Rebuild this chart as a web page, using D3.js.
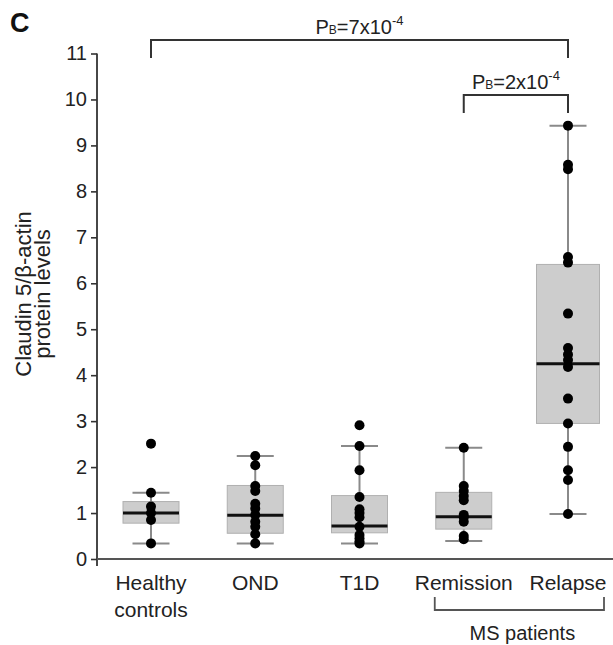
<!DOCTYPE html>
<html>
<head>
<meta charset="utf-8">
<script src="https://cdn.jsdelivr.net/npm/d3@7"></script>
<style>
  html, body { margin: 0; padding: 0; background: #fff; }
  svg { display: block; font-family: "Liberation Sans", Arial, sans-serif; }
</style>
</head>
<body>
<svg id="chart" width="613" height="645"></svg>
<script>
// ---- data ----
const categories = ["Healthy controls", "OND", "T1D", "Remission", "Relapse"];
const labelLines = [["Healthy", "controls"], ["OND"], ["T1D"], ["Remission"], ["Relapse"]];
const mins    = [0.34, 0.34, 0.34, 0.39, 0.98];
const q1s     = [0.78, 0.56, 0.57, 0.65, 2.95];
const medians = [1.00, 0.95, 0.72, 0.92, 4.25];
const q3s     = [1.25, 1.60, 1.38, 1.45, 6.41];
const maxs    = [1.44, 2.24, 2.46, 2.42, 9.43];
const pointsHealthy   = [2.51, 1.44, 1.14, 1.00, 0.85, 0.34];
const pointsOND       = [2.24, 2.04, 1.59, 1.48, 1.20, 1.10, 0.96, 0.81, 0.70, 0.54, 0.34];
const pointsT1D       = [2.91, 2.46, 1.93, 1.35, 1.08, 1.00, 0.91, 0.70, 0.52, 0.45, 0.38, 0.34];
const pointsRemission = [2.42, 1.59, 1.48, 1.37, 1.28, 0.96, 0.91, 0.81, 0.50, 0.43];
const pointsRelapse   = [9.43, 8.58, 8.48, 6.57, 6.45, 5.34, 4.59, 4.45, 4.33, 4.18, 3.49, 2.95, 2.44, 1.93, 1.72, 0.98];
const yTicks = [0, 1, 2, 3, 4, 5, 6, 7, 8, 9, 10, 11];
const yLabel = ["Claudin 5/β-actin", "protein levels"];
const comparisons = [
  { from: "Healthy controls", to: "Relapse", mant: "7", exp: "-4" },
  { from: "Remission", to: "Relapse", mant: "2", exp: "-4" }
];
const groupLabel = { text: "MS patients", from: "Remission", to: "Relapse" };

const points = [pointsHealthy, pointsOND, pointsT1D, pointsRemission, pointsRelapse];

// ---- layout ----
const svg = d3.select("#chart");
const axisX = 97, axisY = 559;
const y = d3.scaleLinear().domain([0, 11]).range([559, 53.5]);
const x = d3.scalePoint().domain(categories).range([151, 568]);
const boxW = c => c === "Relapse" ? 63 : 56;
const capW = 37;

// panel letter
svg.append("text").attr("x", 10).attr("y", 32)
  .attr("font-size", 27).attr("font-weight", "bold").attr("fill", "#111").text("C");

// y axis
const yAxis = d3.axisLeft(y).tickValues(yTicks).tickSize(6).tickPadding(4).tickFormat(d3.format("d"));
const gy = svg.append("g").attr("transform", `translate(${axisX},0)`).call(yAxis);
gy.select(".domain").remove();
gy.selectAll(".tick line").attr("stroke", "#333").attr("stroke-width", 1.6);
gy.selectAll(".tick text").attr("font-size", 20).attr("fill", "#222")
  .attr("font-family", "'Liberation Sans', Arial, sans-serif");
gy.append("line").attr("x1", 0).attr("x2", 0).attr("y1", y(11)).attr("y2", axisY + 7)
  .attr("stroke", "#333").attr("stroke-width", 1.8);

// x axis line
svg.append("line").attr("x1", axisX).attr("x2", 613).attr("y1", axisY).attr("y2", axisY)
  .attr("stroke", "#555").attr("stroke-width", 2.2);

// y label
const yl = svg.append("text").attr("transform", `translate(31,294) rotate(-90)`)
  .attr("text-anchor", "middle").attr("font-size", 22).attr("fill", "#222");
yl.append("tspan").attr("x", 0).attr("dy", 0).text(yLabel[0]);
yl.append("tspan").attr("x", 0).attr("dy", 19).text(yLabel[1]);

// boxes
categories.forEach((c, i) => {
  const cx = x(c), w = boxW(c);
  const g = svg.append("g");
  g.append("line").attr("x1", cx).attr("x2", cx).attr("y1", y(mins[i])).attr("y2", y(maxs[i]))
    .attr("stroke", "#8a8a8a").attr("stroke-width", 2);
  [mins[i], maxs[i]].forEach(v => {
    g.append("line").attr("x1", cx - capW / 2).attr("x2", cx + capW / 2).attr("y1", y(v)).attr("y2", y(v))
      .attr("stroke", "#8a8a8a").attr("stroke-width", 2);
  });
  g.append("rect").attr("x", cx - w / 2).attr("width", w)
    .attr("y", y(q3s[i])).attr("height", y(q1s[i]) - y(q3s[i]))
    .attr("fill", "#cdcdcd").attr("stroke", "#b0b0b0").attr("stroke-width", 1);
  g.append("line").attr("x1", cx - w / 2).attr("x2", cx + w / 2)
    .attr("y1", y(medians[i])).attr("y2", y(medians[i]))
    .attr("stroke", "#111").attr("stroke-width", 3);
  g.selectAll("circle").data(points[i]).join("circle")
    .attr("cx", cx).attr("cy", d => y(d)).attr("r", 5).attr("fill", "#000");
});

// category labels
categories.forEach((c, i) => {
  const t = svg.append("text").attr("text-anchor", "middle").attr("font-size", 21).attr("fill", "#222");
  labelLines[i].forEach((ln, j) => {
    t.append("tspan").attr("x", x(c)).attr("y", 590 + j * 27).text(ln);
  });
});

// MS patients bracket
const gx1 = x(groupLabel.from) - 29, gx2 = x(groupLabel.to) + 36;
svg.append("path")
  .attr("d", `M${gx1},597V610H${gx2}V597`)
  .attr("fill", "none").attr("stroke", "#555").attr("stroke-width", 1.8);
svg.append("text").attr("x", (gx1 + gx2) / 2 + 3).attr("y", 640).attr("text-anchor", "middle")
  .attr("font-size", 20).attr("fill", "#222").text(groupLabel.text);

// significance brackets
const brY = [40, 95];
comparisons.forEach((cmp, k) => {
  const x1 = x(cmp.from), x2 = x(cmp.to), by = brY[k];
  svg.append("path").attr("d", `M${x1},${by + 18}V${by}H${x2}V${by + 18}`)
    .attr("fill", "none").attr("stroke", "#333").attr("stroke-width", 2);
  const t = svg.append("text").attr("x", (x1 + x2) / 2).attr("y", by - 6)
    .attr("text-anchor", "middle").attr("font-size", 20).attr("fill", "#222");
  t.append("tspan").text("P");
  t.append("tspan").attr("font-size", 12).text("B");
  t.append("tspan").text("=" + cmp.mant + "x10");
  t.append("tspan").attr("font-size", 13).attr("dy", -9).text(cmp.exp);
});
</script>
</body>
</html>
